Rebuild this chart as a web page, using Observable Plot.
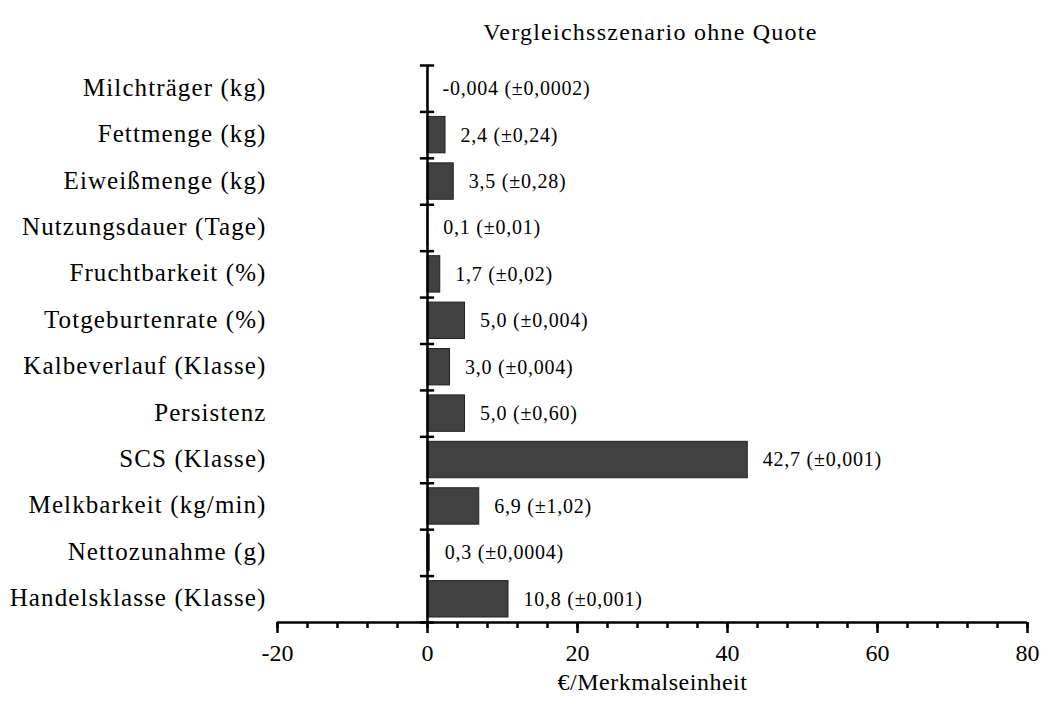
<!DOCTYPE html>
<html>
<head>
<meta charset="utf-8">
<script src="https://cdn.jsdelivr.net/npm/d3@7"></script>
<script src="https://cdn.jsdelivr.net/npm/@observablehq/plot@0.6"></script>
<style>
  body { margin: 0; background: #fff; }
  svg, svg text { font-family: "Liberation Serif", "Times New Roman", serif !important; }
</style>
</head>
<body>
<div id="chart"></div>
<script>
const categories = [
  "Milchträger (kg)",
  "Fettmenge (kg)",
  "Eiweißmenge (kg)",
  "Nutzungsdauer (Tage)",
  "Fruchtbarkeit (%)",
  "Totgeburtenrate (%)",
  "Kalbeverlauf (Klasse)",
  "Persistenz",
  "SCS (Klasse)",
  "Melkbarkeit (kg/min)",
  "Nettozunahme (g)",
  "Handelsklasse (Klasse)"
];
const values = [-0.004, 2.4, 3.5, 0.1, 1.7, 5.0, 3.0, 5.0, 42.7, 6.9, 0.3, 10.8];
const errors = ["±0,0002", "±0,24", "±0,28", "±0,01", "±0,02", "±0,004", "±0,004", "±0,60", "±0,001", "±1,02", "±0,0004", "±0,001"];
const xTicks = [-20, 0, 20, 40, 60, 80];
const xMinorTicks = d3.range(-20, 81, 4);
const title = "Vergleichsszenario ohne Quote";
const xLabel = "€/Merkmalseinheit";

const FONT = "Liberation Serif";
const fmt = v => (Math.abs(v) < 0.01 ? v.toFixed(3) : v.toFixed(1)).replace(".", ",");
const data = categories.map((c, i) => ({
  i, c, v: values[i], label: `${fmt(values[i])} (${errors[i]})`
}));

const chart = Plot.plot({
  width: 1042,
  height: 711,
  marginTop: 65,
  marginBottom: 89,
  marginLeft: 277,
  marginRight: 15,
  style: {fontFamily: "'Liberation Serif', 'Times New Roman', serif", background: "#fff", color: "#000"},
  x: {domain: [-20, 80], ticks: xTicks},
  y: {domain: [0, categories.length], reverse: true, axis: null},
  marks: [
    Plot.rectX(data, {
      x1: 0, x2: "v", y1: "i", y2: d => d.i + 1,
      insetTop: 5, insetBottom: 5,
      fill: "#404040", stroke: "#222", strokeWidth: 1
    }),
    Plot.text(data, {
      x: d => Math.max(d.v, 0), y: d => d.i + 0.5, text: "label",
      textAnchor: "start", dx: 15, fontSize: 20, fontFamily: FONT, fill: "#000"
    }),
    Plot.text(data, {
      y: d => d.i + 0.5, text: "c", frameAnchor: "left",
      textAnchor: "end", dx: -11, dy: -1, fontSize: 25, fontFamily: FONT, fill: "#000"
    }),
    // y axis line at 0 and boundary ticks
    Plot.ruleX([0], {y1: 0, y2: categories.length, stroke: "#000", strokeWidth: 2.5}),
    Plot.ruleY(d3.range(categories.length + 1), {x1: -0.95, x2: 0.95, stroke: "#000", strokeWidth: 2.5}),
    // x axis
    Plot.ruleY([categories.length], {x1: -20, x2: 80, stroke: "#000", strokeWidth: 2.5}),
    Plot.axisX({ticks: xMinorTicks, tickSize: 6, text: null, label: null, stroke: "#000", strokeWidth: 2.5}),
    Plot.axisX({ticks: xTicks, tickSize: 11, tickPadding: 10, fontSize: 24, fontFamily: FONT, stroke: "#000", strokeWidth: 2.5, label: null, tickFormat: d => String(d)}),
    Plot.text([title], {frameAnchor: "top", dx: -2, dy: -43, fontSize: 24, fontFamily: FONT, fill: "#000"}),
    Plot.text([xLabel], {frameAnchor: "bottom", dy: 67, fontSize: 24, fontFamily: FONT, fill: "#000"})
  ]
});

// letter spacing to match the reference's typesetting
const valueLabels = data.map(d => d.label);
d3.select(chart).selectAll("text").each(function() {
  const t = this.textContent;
  let ls = null;
  if (categories.includes(t)) ls = "1.1px";
  else if (valueLabels.includes(t)) ls = "0.75px";
  else if (t === title) ls = "1.25px";
  else if (t === xLabel) ls = "0.5px";
  if (ls) this.setAttribute("letter-spacing", ls);
});
document.getElementById("chart").appendChild(chart);
</script>
</body>
</html>
